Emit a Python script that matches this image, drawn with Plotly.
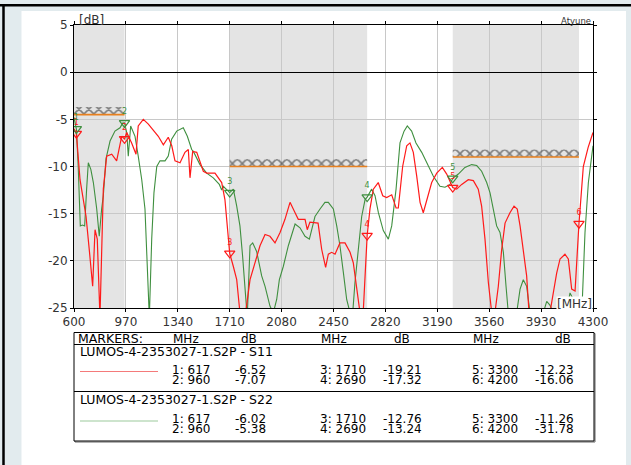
import plotly.graph_objects as go

# ---- data ----
s11_mhz = [600, 617, 643, 666, 686, 710, 733, 750, 766, 785, 809, 833, 869, 904, 940, 960, 976, 1011,
           1042, 1058, 1094, 1130, 1165, 1201, 1237, 1272, 1297, 1320, 1356, 1391, 1415, 1427, 1446,
           1475, 1522, 1546, 1605, 1653, 1676, 1710, 1736, 1760, 1783, 1819, 1855, 1890, 1926, 1962,
           1997, 2033, 2069, 2104, 2140, 2176, 2199, 2247, 2263, 2282, 2318, 2340, 2366, 2394, 2413,
           2437, 2461, 2496, 2532, 2568, 2591, 2615, 2639, 2660, 2690, 2710, 2734, 2769, 2801, 2829,
           2865, 2896, 2912, 2943, 2972, 2995, 3019, 3043, 3067, 3090, 3114, 3150, 3186, 3226, 3257,
           3300, 3328, 3364, 3411, 3447, 3482, 3506, 3530, 3554, 3578, 3601, 3625, 3649, 3673, 3708,
           3737, 3760, 3780, 3803, 3827, 3844, 3993, 4017, 4041, 4065, 4100, 4124, 4148, 4172, 4200,
           4231, 4265, 4300]
s11_db = [-6.0, -6.52, -11.4, -13.5, -15.3, -19.0, -22.7, -16.7, -17.7, -26.0, -12.4, -8.9, -8.7, -9.4,
          -6.8, -7.07, -6.4, -7.5, -8.7, -5.7, -5.0, -5.5, -6.1, -6.8, -7.7, -6.9, -7.8, -9.4, -9.6,
          -8.5, -8.2, -11.2, -8.4, -8.5, -10.5, -10.7, -10.7, -11.7, -13.5, -19.21, -20.6, -22.0,
          -25.5, -26.0, -22.0, -20.2, -18.4, -17.2, -17.4, -18.1, -17.0, -15.6, -13.8, -14.9, -15.6,
          -15.6, -16.7, -15.9, -16.0, -16.0, -18.8, -20.7, -19.3, -19.1, -19.3, -18.1, -18.1, -19.1,
          -20.2, -22.7, -25.5, -26.0, -17.32, -14.5, -12.4, -11.7, -13.1, -13.3, -13.0, -14.4, -14.4,
          -10.0, -7.8, -7.5, -8.5, -11.0, -13.8, -14.9, -13.5, -11.7, -10.7, -10.1, -10.8, -12.23,
          -12.4, -11.9, -11.4, -11.5, -12.4, -14.2, -17.7, -22.3, -25.5, -25.5, -22.7, -18.8, -16.0,
          -14.9, -14.2, -14.5, -16.3, -18.8, -21.6, -25.5, -25.5, -23.4, -21.3, -19.8, -19.3, -19.8,
          -23.0, -23.2, -16.06, -10.0, -8.0, -6.4]

s22_mhz = [600, 617, 630, 645, 660, 676, 690, 702, 720, 738, 762, 780, 797, 809, 828, 857, 892, 928,
           947, 960, 976, 987, 1004, 1035, 1058, 1083, 1106, 1123, 1137, 1154, 1170, 1190, 1213, 1249,
           1272, 1296, 1332, 1379, 1408, 1439, 1451, 1498, 1546, 1593, 1636, 1653, 1664, 1710, 1736,
           1760, 1783, 1802, 1819, 1835, 1855, 1874, 1902, 1938, 1962, 1997, 2021, 2045, 2064, 2092,
           2128, 2176, 2211, 2247, 2278, 2318, 2354, 2389, 2413, 2449, 2473, 2496, 2520, 2544, 2568,
           2587, 2603, 2627, 2651, 2675, 2690, 2722, 2746, 2770, 2805, 2841, 2865, 2896, 2924, 2953,
           2976, 3007, 3038, 3079, 3114, 3161, 3209, 3245, 3281, 3300, 3340, 3387, 3435, 3471, 3506,
           3542, 3566, 3589, 3613, 3637, 3661, 3680, 3696, 3756, 3780, 3803, 3827, 3851, 3946, 3970,
           3993, 4017, 4110, 4136, 4160, 4184, 4200, 4219, 4243, 4267, 4300]
s22_db = [-4.8, -6.02, -10.0, -16.3, -16.2, -16.3, -12.4, -9.6, -10.3, -11.7, -14.5, -17.4, -14.5,
          -13.1, -9.2, -7.3, -6.25, -5.9, -5.4, -5.38, -6.4, -8.9, -5.7, -6.8, -8.9, -11.4, -14.5,
          -20.6, -26.0, -17.7, -12.8, -10.0, -9.4, -9.4, -8.9, -7.1, -6.25, -5.9, -6.8, -8.2, -8.4,
          -9.8, -10.7, -11.2, -11.9, -12.5, -12.1, -12.76, -12.4, -14.2, -16.3, -19.5, -23.3, -26.0,
          -18.4, -18.1, -19.0, -21.6, -22.7, -24.8, -25.5, -24.1, -22.0, -20.6, -18.4, -16.1, -16.5,
          -17.4, -17.7, -15.3, -14.5, -13.8, -13.8, -14.5, -16.3, -18.4, -21.2, -24.1, -25.5, -25.5,
          -22.3, -18.4, -15.3, -13.5, -13.24, -12.4, -13.1, -14.9, -16.8, -17.7, -16.3, -12.4, -7.5,
          -6.25, -5.7, -6.25, -7.5, -8.5, -9.6, -11.0, -12.1, -12.2, -11.9, -11.26, -10.8, -10.1,
          -9.8, -9.9, -10.5, -11.7, -12.8, -14.5, -16.3, -17.0, -19.1, -22.7, -25.5, -25.5, -23.0,
          -22.0, -22.7, -25.5, -25.5, -24.3, -24.7, -25.5, -25.5, -23.4, -24.1, -25.5, -31.78, -26.0,
          -17.0, -11.7, -7.8]

marker_ids = ["1", "2", "3", "4", "5", "6"]
marker_mhz = [617, 960, 1710, 2690, 3300, 4200]
s11_marker_db = [-6.52, -7.07, -19.21, -17.32, -12.23, -16.06]
s22_marker_db = [-6.02, -5.38, -12.76, -13.24, -11.26, -31.78]

band_start = [600, 1710, 3300]
band_stop = [960, 2690, 4200]
limit_db = [-4.5, -10, -9]

x_ticks = [600, 970, 1340, 1710, 2080, 2450, 2820, 3190, 3560, 3930, 4300]
y_ticks = [5, 0, -5, -10, -15, -20, -25]
y_tick_text = ["5", "0", "-5", "-10", "-15", "-20", "-25"]

trace_names = ["LUMOS-4-2353027-1.S2P - S11", "LUMOS-4-2353027-1.S2P - S22"]

# ---- layout helpers (pixel -> paper) ----
W, H = 631, 465
L, R, T, B = 74, 38, 25, 157
PW, PH = W - L - R, H - T - B


def px(x):
    return (x - L) / PW


def py(y):
    return (H - B - y) / PH


FONT = "DejaVu Sans"
RED = "#ff1a1a"
GREEN = "#3f8f3f"

fig = go.Figure()

# limit lines with hatch
for a, b, lim in zip(band_start, band_stop, limit_db):
    fig.add_trace(go.Scatter(
        x=[a, b, b, a, a], y=[lim, lim, lim + 0.8, lim + 0.8, lim],
        mode="lines", line=dict(width=0), fill="toself", fillcolor="rgba(0,0,0,0)",
        fillpattern=dict(shape="x", size=7, solidity=0.4, fgcolor="#111111",
                         bgcolor="rgba(0,0,0,0)"),
        hoverinfo="skip", showlegend=False))
    fig.add_trace(go.Scatter(x=[a, b], y=[lim, lim], mode="lines",
                             line=dict(color="#e8801e", width=1.6), showlegend=False))

fig.add_trace(go.Scatter(x=s22_mhz, y=s22_db, mode="lines",
                         line=dict(color=GREEN, width=1.1), showlegend=False))
fig.add_trace(go.Scatter(x=s11_mhz, y=s11_db, mode="lines",
                         line=dict(color=RED, width=1.2), showlegend=False))

for vals, col in [(s11_marker_db, RED), (s22_marker_db, GREEN)]:
    fig.add_trace(go.Scatter(
        x=marker_mhz, y=vals, mode="markers+text", text=marker_ids,
        textposition="top center", textfont=dict(size=8, color=col, family=FONT),
        marker=dict(symbol="triangle-down-open", size=9, color=col, line=dict(width=1.2)),
        showlegend=False))

shapes = [
    # page frame
    dict(type="rect", xref="paper", yref="paper", x0=px(21.5), x1=px(626), y0=py(466), y1=py(11),
         fillcolor="white", line=dict(width=0), layer="below"),
    dict(type="line", xref="paper", yref="paper", x0=px(0), x1=px(631), y0=py(5.3), y1=py(5.3),
         line=dict(color="black", width=2.5)),
    dict(type="line", xref="paper", yref="paper", x0=px(3.5), x1=px(3.5), y0=py(5), y1=py(466),
         line=dict(color="black", width=2.5)),
]
for a, b in zip(band_start, band_stop):
    shapes.append(dict(type="rect", xref="x", yref="paper", x0=a, x1=b, y0=0, y1=1,
                       fillcolor="#e4e4e4", line=dict(width=0), layer="below"))

# marker table box
tx0, tx1 = 74, 594
shapes += [
    dict(type="rect", xref="paper", yref="paper", x0=px(tx0 + 1), x1=px(tx1 + 1), y0=py(442), y1=py(333.5),
         line=dict(color="#666666", width=1)),
    dict(type="rect", xref="paper", yref="paper", x0=px(tx0), x1=px(tx1), y0=py(441), y1=py(332.5),
         fillcolor="white", line=dict(color="black", width=1)),
    dict(type="line", xref="paper", yref="paper", x0=px(tx0), x1=px(tx1), y0=py(344.5), y1=py(344.5),
         line=dict(color="black", width=1)),
    dict(type="line", xref="paper", yref="paper", x0=px(tx0), x1=px(tx1), y0=py(391.5), y1=py(391.5),
         line=dict(color="black", width=1)),
    dict(type="line", xref="paper", yref="paper", x0=px(80), x1=px(158), y0=py(371.5), y1=py(371.5),
         line=dict(color="#f47a7a", width=1.2)),
    dict(type="line", xref="paper", yref="paper", x0=px(80), x1=px(158), y0=py(421), y1=py(421),
         line=dict(color="#9cc99c", width=1.2)),
]

annotations = []


def txt(s, x, y, size=12, anchor="left", color="black"):
    annotations.append(dict(text=s, xref="paper", yref="paper", x=px(x), y=py(y), xanchor=anchor,
                            yanchor="middle", showarrow=False,
                            font=dict(family=FONT, size=size, color=color)))


txt("[dB]", 77, 19.5, size=12, color="#333333")
txt("Atyune", 593, 20.5, size=8.5, anchor="right", color="#333333")
annotations.append(dict(text="[MHz]", xref="paper", yref="paper", x=px(593), y=py(303.5),
                        xanchor="right", yanchor="middle", showarrow=False, bgcolor="white",
                        borderpad=0, font=dict(family=FONT, size=12, color="#333333")))

mhz_cols = [170, 318, 470]
db_cols = [233, 381, 533]
head_db = [239, 392, 553]

txt("MARKERS:", 76, 338.5, size=12.5)
for mc, hd in zip(mhz_cols, head_db):
    txt("MHz", mc + 1, 338.5)
    txt("dB", hd, 338.5)

rows = [(trace_names[0], s11_marker_db, 351.5, [370, 380]),
        (trace_names[1], s22_marker_db, 399.5, [419, 429])]
for name, vals, ty, ry in rows:
    txt(name, 78, ty, size=12.5)
    for k in range(6):
        c, r = divmod(k, 2)
        txt(f"{marker_ids[k]}: {marker_mhz[k]}", mhz_cols[c], ry[r])
        txt(f"{vals[k]:.2f}", db_cols[c], ry[r])

fig.update_layout(
    width=W, height=H,
    margin=dict(l=L, r=R, t=T, b=B),
    paper_bgcolor="#e2ebee", plot_bgcolor="white",
    shapes=shapes, annotations=annotations,
    font=dict(family=FONT, size=12, color="#333333"),
    xaxis=dict(range=[600, 4300], tickvals=x_ticks, showgrid=True, gridcolor="#c8c8c8",
               gridwidth=1, zeroline=False, showline=True, linecolor="black", mirror="ticks",
               ticks="outside", ticklen=3, tickcolor="black"),
    yaxis=dict(range=[-25, 5], tickvals=y_ticks, ticktext=y_tick_text, showgrid=True,
               gridcolor="#c8c8c8", gridwidth=1, zeroline=True, zerolinecolor="black",
               zerolinewidth=1, showline=True, linecolor="black", mirror="ticks",
               ticks="outside", ticklen=3, tickcolor="black"),
)

fig.write_html("out.html", config={"displayModeBar": False},
               post_script="document.body.style.margin='0';")
